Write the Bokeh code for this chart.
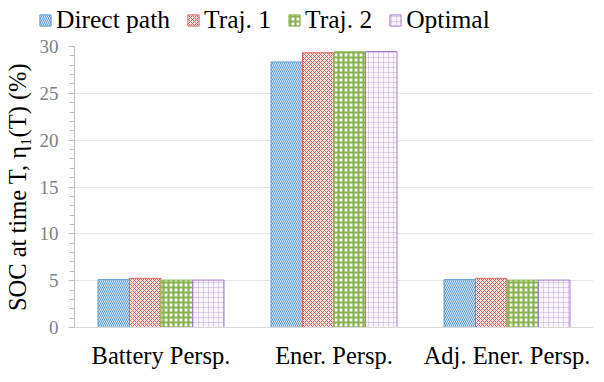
from bokeh.plotting import figure
from bokeh.layouts import column
from bokeh.models import ColumnDataSource, FactorRange, Legend, LegendItem, FixedTicker
from bokeh.transform import dodge
from bokeh.embed import file_html
from bokeh.resources import INLINE

categories = ["Battery Persp.", "Ener. Persp.", "Adj. Ener. Persp."]
series_names = ["Direct path", "Traj. 1", "Traj. 2", "Optimal"]
direct_path = [5.11, 28.35, 5.11]
traj_1 = [5.25, 29.33, 5.25]
traj_2 = [5.06, 29.43, 5.06]
optimal = [5.06, 29.46, 5.06]
y_ticks = [0, 5, 10, 15, 20, 25, 30]

FONT = "Liberation Serif"

source = ColumnDataSource(dict(cat=categories, d=direct_path, t1=traj_1, t2=traj_2, o=optimal))

styles = [
    ("d", -0.273, "#DCEAF7", "#5B9BD5", "\\", 4, 1.0, 1.0),
    ("t1", -0.091, "#FBE3E3", "#E06060", "x", 4, 1.0, 1.0),
    ("t2", 0.091, "#FFFFFF", "#86B34E", "+", 5, 2.2, 1.0),
    ("o", 0.273, "#F9F5FC", "#A27ACF", "+", 5, 0.6, 0.5),
]

# ---- main chart ----
p = figure(frame_width=519, frame_height=281, x_range=FactorRange(*categories), y_range=(0, 30),
           output_backend="svg", toolbar_location=None,
           min_border_left=69, min_border_right=0, min_border_top=12, min_border_bottom=39,
           background_fill_color="white", border_fill_color="white")
p.outline_line_color = None
p.frame_align = False

for col, off, fill, hc, pat, sc, wt, ha in styles:
    p.vbar(x=dodge("cat", off, range=p.x_range), top=col, width=0.182, source=source,
           fill_color=fill, line_color=hc, line_width=1,
           hatch_pattern=pat, hatch_color=hc, hatch_scale=sc, hatch_weight=wt, hatch_alpha=ha)

p.yaxis.ticker = FixedTicker(ticks=y_ticks, minor_ticks=list(range(0, 31)))
p.yaxis.axis_line_color = "#BFBFBF"
p.yaxis.major_tick_line_color = "#BFBFBF"
p.yaxis.minor_tick_line_color = "#BFBFBF"
p.yaxis.major_tick_in = 0
p.yaxis.major_tick_out = 6
p.yaxis.minor_tick_in = 0
p.yaxis.minor_tick_out = 5
p.yaxis.major_label_standoff = 10
p.yaxis.major_label_text_font = FONT
p.yaxis.major_label_text_font_size = "19px"
p.yaxis.major_label_text_color = "#7F7F7F"
p.yaxis.axis_label = "SOC at time T, η₁(T) (%)"
p.yaxis.axis_label_text_font = FONT
p.yaxis.axis_label_text_font_size = "24.5px"
p.yaxis.axis_label_text_font_style = "normal"
p.yaxis.axis_label_text_color = "black"
p.yaxis.axis_label_standoff = 6

p.xaxis.axis_line_color = "#D9D9D9"
p.xaxis.major_tick_line_color = None
p.xaxis.minor_tick_line_color = None
p.xaxis.major_label_text_font = FONT
p.xaxis.major_label_text_font_size = "24.5px"
p.xaxis.major_label_text_color = "black"
p.xaxis.major_label_standoff = 8

p.xgrid.grid_line_color = None
p.ygrid.grid_line_color = "#E6E6E6"
p.ygrid.ticker = FixedTicker(ticks=y_ticks)

# ---- legend strip (same bars, scrolled out of view; only the legend is visible) ----
lf = figure(width=588, height=34, x_range=FactorRange(*categories), y_range=(1000, 1001),
            output_backend="svg", toolbar_location=None, x_axis_type=None, y_axis_type=None,
            min_border=0, min_border_left=0, min_border_right=0, min_border_top=0,
            min_border_bottom=0, background_fill_color="white", border_fill_color="white")
lf.outline_line_color = None
lf.grid.visible = False
lf.frame_align = False
items = []
for (col, off, fill, hc, pat, sc, wt, ha), name in zip(styles, series_names):
    r = lf.vbar(x=dodge("cat", off, range=lf.x_range), top=col, width=0.182, source=source,
                fill_color=fill, line_color=hc, line_width=1,
                hatch_pattern=pat, hatch_color=hc, hatch_scale=sc, hatch_weight=wt, hatch_alpha=ha)
    items.append(LegendItem(label=name, renderers=[r]))

legend = Legend(items=items, orientation="horizontal", location=(38, -1),
                label_text_font=FONT, label_text_font_size="25.5px", label_text_color="black",
                glyph_width=14, glyph_height=14, label_standoff=4, spacing=16,
                padding=0, margin=0, border_line_color=None, background_fill_alpha=0)
lf.add_layout(legend)

layout = column(lf, p, spacing=0)
open("out.html", "w").write(file_html(layout, INLINE))
